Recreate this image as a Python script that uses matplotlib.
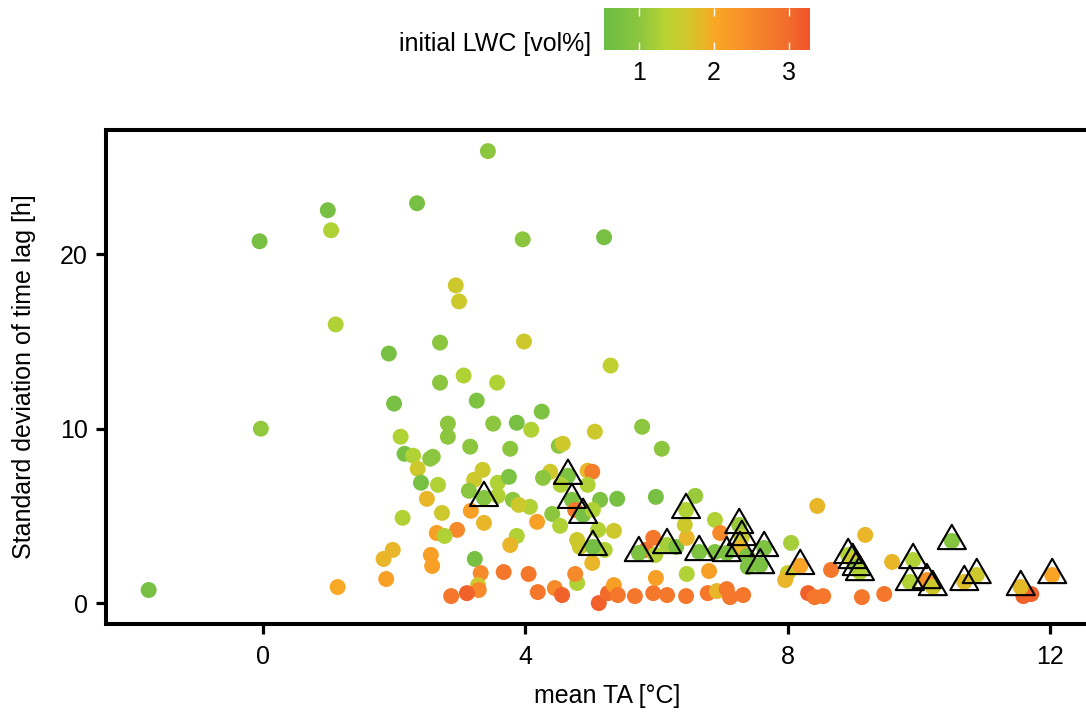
import numpy as np
import matplotlib
matplotlib.use("Agg")
import matplotlib.pyplot as plt
from matplotlib.colors import LinearSegmentedColormap, Normalize
from matplotlib.cm import ScalarMappable

plt.rcParams['font.family'] = ['Liberation Sans', 'DejaVu Sans']

# mittlere Lufttemperatur [°C]
mean_ta = [3.43, 0.99, 2.35, -0.05, 1.04, 3.96, 5.20, 1.11, 2.94, 2.99,
           3.98, 5.30, 1.92, 2.70, 3.06, 2.70, 3.57, 2.00, 3.26, -0.03,
           4.25, 2.82, 2.82, 3.51, 3.87, 4.09, 2.10, 3.16, 3.77, 2.16,
           2.29, 2.55, 2.59, 2.36, 2.41, 2.67, 3.35, 3.22, 3.58, 3.75,
           3.14, 3.37, 3.58, 3.81, 4.07, 3.90, 2.50, 2.13, 2.73, 3.17,
           3.37, 2.96, 2.65, 2.77, 3.87, 3.77, 1.98, 1.84, 2.56, 2.58,
           3.23, 1.88, 3.32, 3.67, 4.05, 3.28, 3.29, 3.11, 2.87, 1.14,
           -1.74, 4.19, 4.45, 4.56, 4.79, 4.76, 5.12, 5.26, 5.35, 5.41,
           5.67, 5.95, 6.16, 6.45, 6.78, 6.92, 7.07, 7.12, 7.32, 5.06,
           5.78, 6.08, 4.51, 4.57, 4.38, 4.27, 4.65, 4.95, 5.02, 4.95,
           4.54, 4.71, 5.14, 5.40, 4.76, 4.88, 5.03, 4.41, 4.53, 4.18,
           5.11, 4.79, 4.83, 5.35, 5.21, 5.03, 5.02, 5.95, 5.84, 5.73,
           6.16, 6.30, 5.98, 6.46, 6.43, 6.59, 6.45, 5.99, 6.65, 6.80,
           6.46, 5.99, 6.89, 6.97, 8.45, 7.26, 7.30, 7.27, 7.07, 6.89,
           7.64, 7.38, 7.58, 7.39, 8.05, 8.00, 7.96, 8.19, 8.66, 9.18,
           8.92, 8.99, 9.05, 9.10, 9.59, 8.31, 8.41, 8.54, 9.13, 9.47,
           9.91, 10.50, 9.86, 10.12, 10.21, 10.69, 10.88, 11.59, 11.71, 11.55,
           12.03]

# Standardabweichung des Zeitversatzes [h]
sd_lag = [25.92, 22.53, 22.93, 20.75, 21.38, 20.86, 20.98, 15.98, 18.22, 17.30,
          15.00, 13.62, 14.31, 14.94, 13.05, 12.64, 12.64, 11.44, 11.61, 10.00,
          10.98, 10.29, 9.54, 10.29, 10.34, 9.94, 9.54, 8.97, 8.85, 8.56,
          8.45, 8.28, 8.39, 7.70, 6.90, 6.78, 7.64, 7.07, 6.90, 7.24,
          6.44, 6.03, 6.15, 5.92, 5.52, 5.63, 5.98, 4.89, 5.17, 5.29,
          4.60, 4.20, 4.02, 3.85, 3.85, 3.33, 3.05, 2.53, 2.76, 2.13,
          2.53, 1.38, 1.72, 1.78, 1.67, 1.03, 0.75, 0.57, 0.40, 0.92,
          0.75, 0.63, 0.86, 0.46, 1.15, 1.67, 0.00, 0.57, 1.03, 0.46,
          0.40, 0.57, 0.46, 0.40, 0.57, 0.69, 0.80, 0.34, 0.46, 9.83,
          10.11, 8.85, 9.02, 9.14, 7.53, 7.18, 7.30, 7.59, 7.53, 6.78,
          6.78, 5.92, 5.92, 5.98, 5.34, 5.06, 5.34, 5.11, 4.43, 4.66,
          4.20, 3.62, 3.22, 4.14, 3.05, 3.22, 2.30, 3.74, 3.05, 2.87,
          3.33, 3.22, 2.76, 3.74, 4.48, 6.15, 5.34, 6.09, 2.93, 1.84,
          1.67, 1.44, 4.77, 4.02, 5.57, 4.48, 3.79, 3.16, 2.87, 2.93,
          3.16, 2.70, 2.18, 2.07, 3.45, 1.72, 1.32, 2.13, 1.90, 3.91,
          2.76, 2.47, 2.07, 1.78, 2.36, 0.57, 0.34, 0.40, 0.34, 0.52,
          2.47, 3.56, 1.21, 1.32, 0.92, 1.21, 1.61, 0.40, 0.52, 0.92,
          1.61]

# anfänglicher Flüssigwassergehalt [vol%]
lwc = [1.0, 0.7, 0.7, 0.7, 1.3, 1.0, 0.7, 1.3, 1.6, 1.6,
       1.6, 1.45, 0.7, 1.0, 1.3, 1.0, 1.3, 0.7, 0.8, 1.05,
       0.8, 1.0, 1.0, 1.0, 0.7, 1.3, 1.3, 1.0, 1.0, 0.7,
       1.3, 1.0, 1.0, 1.6, 0.7, 1.3, 1.6, 1.6, 1.3, 0.8,
       1.0, 0.9, 1.3, 1.0, 1.3, 1.6, 1.85, 1.3, 1.6, 2.15,
       1.85, 2.5, 2.15, 1.3, 1.3, 1.85, 1.85, 1.85, 2.15, 2.15,
       0.7, 2.15, 2.5, 2.8, 2.8, 1.6, 2.5, 3.1, 2.8, 2.0,
       0.7, 2.8, 2.5, 3.1, 1.3, 2.5, 3.15, 3.0, 2.15, 2.8,
       2.8, 2.8, 2.8, 2.8, 2.8, 1.85, 2.8, 2.8, 2.8, 1.6,
       1.0, 1.0, 1.0, 1.6, 1.6, 1.0, 0.8, 1.85, 2.7, 1.3,
       1.3, 0.8, 0.8, 0.7, 2.8, 0.7, 1.3, 1.0, 1.3, 2.15,
       1.3, 1.6, 1.6, 1.6, 1.3, 0.65, 1.85, 2.8, 2.9, 0.8,
       1.2, 0.8, 1.3, 1.85, 1.6, 1.1, 1.3, 0.7, 0.8, 2.15,
       1.3, 2.15, 1.3, 2.5, 1.85, 1.1, 1.5, 1.85, 0.8, 0.8,
       0.8, 0.8, 0.75, 0.8, 1.2, 1.6, 1.85, 2.1, 2.8, 1.85,
       1.3, 1.6, 1.0, 1.3, 1.85, 3.1, 2.8, 2.8, 2.8, 2.8,
       1.3, 0.9, 1.3, 2.4, 1.6, 1.75, 1.6, 3.1, 3.1, 1.8,
       2.1]

# Messungen mit Dreieck markiert
marked = [0, 0, 0, 0, 0, 0, 0, 0, 0, 0,
          0, 0, 0, 0, 0, 0, 0, 0, 0, 0,
          0, 0, 0, 0, 0, 0, 0, 0, 0, 0,
          0, 0, 0, 0, 0, 0, 0, 0, 0, 0,
          0, 1, 0, 0, 0, 0, 0, 0, 0, 0,
          0, 0, 0, 0, 0, 0, 0, 0, 0, 0,
          0, 0, 0, 0, 0, 0, 0, 0, 0, 0,
          0, 0, 0, 0, 0, 0, 0, 0, 0, 0,
          0, 0, 0, 0, 0, 0, 0, 0, 0, 0,
          0, 0, 0, 0, 0, 0, 1, 0, 0, 0,
          0, 1, 0, 0, 0, 1, 0, 0, 0, 0,
          0, 0, 0, 0, 0, 1, 0, 0, 0, 1,
          1, 0, 0, 0, 0, 0, 1, 0, 1, 0,
          0, 0, 0, 0, 0, 1, 1, 1, 1, 0,
          1, 0, 1, 0, 0, 0, 0, 1, 0, 0,
          1, 1, 1, 1, 0, 0, 0, 0, 0, 0,
          1, 1, 1, 1, 1, 1, 1, 0, 0, 1,
          1]

cb_ticks = [1, 2, 3]
x_ticks = [0, 4, 8, 12]
y_ticks = [0, 10, 20]

x = np.array(mean_ta)
y = np.array(sd_lag)
c = np.array(lwc)
m = np.array(marked, dtype=bool)

lwc_min, lwc_max = 0.53, 3.28
stops = [(0.53, '#6cbd45'), (1.0, '#8cc63f'), (1.35, '#b8d433'),
         (1.65, '#d2c72b'), (2.0, '#f9a825'), (2.5, '#f68a2a'),
         (3.0, '#f26b2b'), (3.28, '#f05429')]
cmap = LinearSegmentedColormap.from_list(
    'lwc', [((v - lwc_min) / (lwc_max - lwc_min), col) for v, col in stops])
norm = Normalize(lwc_min, lwc_max)

W, H = 1086, 713
fs = 18
fig = plt.figure(figsize=(W / 100, H / 100), dpi=100)
ax = fig.add_axes([106 / W, 89 / H, 1002 / W, 494 / H])

ax.scatter(x, y, c=c, cmap=cmap, norm=norm, s=132, linewidths=0, zorder=2)
ax.scatter(x[m], y[m], marker=(3, 0, 0), s=545, facecolors='none',
           edgecolors='black', linewidths=1.5, zorder=3)

ax.set_xlim(-2.39, 12.88)
ax.set_ylim(-1.2, 27.13)
ax.set_xticks(x_ticks)
ax.set_yticks(y_ticks)
for side in ['left', 'top', 'bottom']:
    ax.spines[side].set_linewidth(2.9)
ax.spines['right'].set_visible(False)
ax.tick_params(width=2.3, length=7, labelsize=fs, pad=6)
ax.tick_params(axis='x', pad=8)
ax.set_xlabel('mean TA [°C]', fontsize=fs, labelpad=11)
ax.set_ylabel('Standard deviation of time lag [h]', fontsize=fs, labelpad=17)

# Farbskala oben
cax = fig.add_axes([604 / W, (H - 50) / H, 206 / W, 42 / H])
cb = fig.colorbar(ScalarMappable(norm=norm, cmap=cmap), cax=cax,
                  orientation='horizontal', ticks=cb_ticks)
cb.outline.set_visible(False)
cax.xaxis.set_ticks_position('both')
cax.tick_params(direction='in', color='white', length=6, width=1,
                labelsize=fs, pad=8, labeltop=False)
fig.text(591 / W, (H - 44) / H, 'initial LWC [vol%]', fontsize=fs,
         ha='right', va='center')

fig.savefig('out.png', dpi=100)
